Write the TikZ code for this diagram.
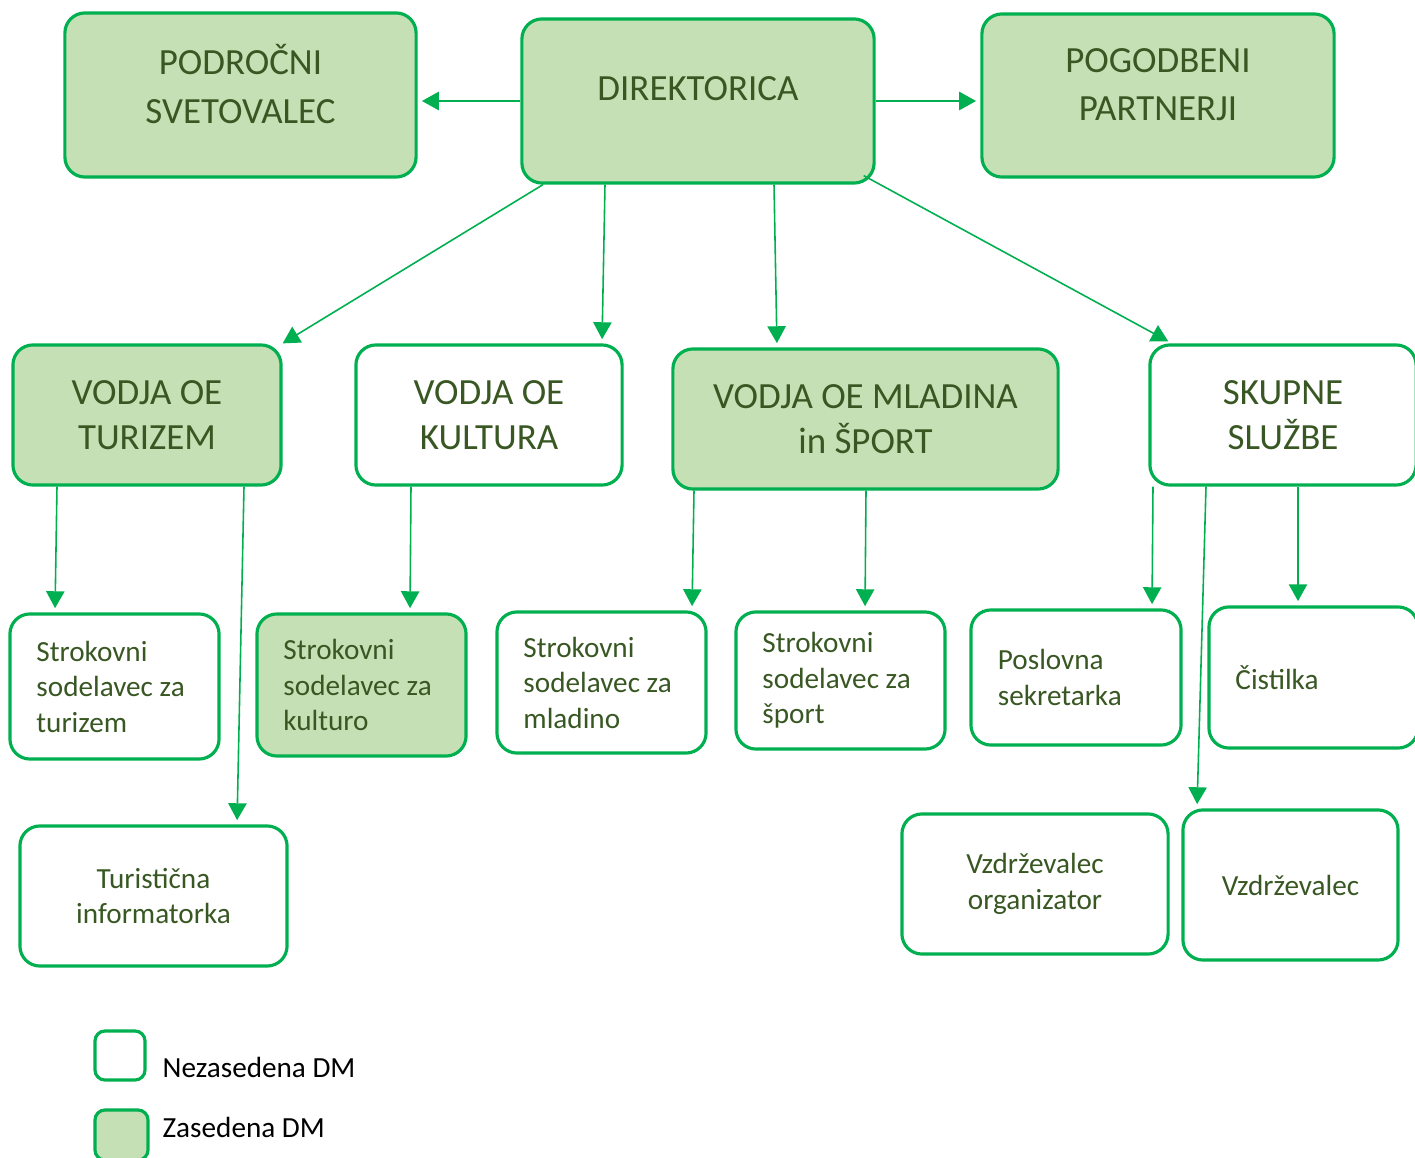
\documentclass[tikz,border=0pt]{standalone}
\usepackage{fontspec}
\setmainfont{Carlito}
\usetikzlibrary{arrows.meta,calc}
\definecolor{dmline}{HTML}{00B050}
\definecolor{dmfill}{HTML}{C5E0B4}
\definecolor{dmtext}{HTML}{385723}
\begin{document}
\begin{tikzpicture}[x=0.01cm, y=-0.01cm,
    box/.style={draw=dmline, line width=0.9pt, rounded corners=0.2cm, text=dmtext,
                inner sep=0pt, font=\fontsize{8.3}{10.1}\selectfont},
    full/.style={fill=dmfill},
    sz/.style 2 args={minimum width=#1cm, minimum height=#2cm},
    big/.style={align=center, font=\fontsize{10.5}{12.8}\selectfont},
    ttl/.style={align=center, text=dmtext, inner sep=0pt, font=\fontsize{10.5}{13.7}\selectfont},
    lft/.style={align=flush left, text width=1.56cm},
    mid/.style={align=center},
    conn/.style={draw=dmline, line width=0.45pt, shorten >=1.2pt,
                 -{Triangle[length=4.8pt, width=5.2pt]}}]
    \useasboundingbox (0,0) rectangle (1415,1158);
    % top row
    \node[box, full, sz={3.51}{1.64},
          label={[ttl, name=podt, yshift=0.11cm]center:PODROČNI\\SVETOVALEC}] (pod) at (240.5,95) {};
    \node[box, full, sz={3.52}{1.64},
          label={[ttl, name=dirt, yshift=0.12cm]center:DIREKTORICA}] (dir) at (698,101) {};
    \node[box, full, sz={3.52}{1.63},
          label={[ttl, name=pogt, yshift=0.11cm]center:POGODBENI\\PARTNERJI}] (pog) at (1158,95.5) {};
    % vodje
    \node[box, full, big, sz={2.68}{1.40}] (tur) at (147,415) {VODJA OE\\TURIZEM};
    \node[box, big, sz={2.66}{1.40}] (kul) at (489,415) {VODJA OE\\KULTURA};
    \node[box, full, big, sz={3.85}{1.40}] (mla) at (865.5,419) {VODJA OE MLADINA\\in ŠPORT};
    \node[box, big, sz={2.66}{1.40}] (sku) at (1283,415) {SKUPNE\\SLUŽBE};
    % delovna mesta
    \node[box, lft, sz={2.09}{1.45}] (stt) at (114.5,686.5) {Strokovni\\sodelavec za\\turizem};
    \node[box, full, lft, sz={2.09}{1.42}] (stk) at (361.5,685) {Strokovni\\sodelavec za\\kulturo};
    \node[box, lft, sz={2.09}{1.41}] (stm) at (601.5,682.5) {Strokovni\\sodelavec za\\mladino};
    \node[box, lft, sz={2.09}{1.37}] (sts) at (840.5,680.5) {Strokovni\\sodelavec za\\šport};
    \node[box, lft, sz={2.10}{1.35}] (pos) at (1076,677.5) {Poslovna\\sekretarka};
    \node[box, lft, sz={2.09}{1.41}] (cis) at (1313.5,677.5) {Čistilka};
    \node[box, mid, sz={2.67}{1.40}] (inf) at (153.5,896) {Turistična\\informatorka};
    \node[box, mid, sz={2.66}{1.40}] (vzo) at (1035,884) {Vzdrževalec\\organizator};
    \node[box, mid, sz={2.15}{1.50}] (vzd) at (1290.5,885) {Vzdrževalec};
    % legenda
    \node[box, rounded corners=0.1cm, sz={0.50}{0.49}] (lgn) at (120,1055.5) {};
    \node[box, full, rounded corners=0.1cm, sz={0.53}{0.50}] (lgz) at (121.5,1135) {};
    \node[anchor=west, inner sep=0pt, font=\fontsize{8.3}{10}\selectfont] (lgnt) at (162,1067) {Nezasedena DM};
    \node[anchor=west, inner sep=0pt, font=\fontsize{8.3}{10}\selectfont] (lgzt) at (162,1127.5) {Zasedena DM};
    % povezave
    \draw[conn] (dir.west) -- (dir.west -| pod.east);
    \draw[conn] (dir.east) -- (dir.east -| pog.west);
    \draw[conn, shorten >=0pt] (543,0 |- dir.south) -- (tur.north east);
    \draw[conn] (605,0 |- dir.south) -- (602,0 |- kul.north);
    \draw[conn] (774,0 |- dir.south) -- (777,0 |- mla.north);
    \draw[conn] ($(dir.south east)+(-12,-9)$) -- (1172,0 |- sku.north);
    \draw[conn] (57,0 |- tur.south) -- (55,0 |- stt.north);
    \draw[conn] (244,0 |- tur.south) -- (237,0 |- inf.north);
    \draw[conn] (411,0 |- kul.south) -- (410,0 |- stk.north);
    \draw[conn] (694,0 |- mla.south) -- (692,0 |- stm.north);
    \draw[conn] (866,0 |- mla.south) -- (865,0 |- sts.north);
    \draw[conn] (1153,0 |- sku.south) -- (1152,0 |- pos.north);
    \draw[conn] (1206,0 |- sku.south) -- (1197,0 |- vzd.north);
    \draw[conn] (1298,0 |- sku.south) -- (1298,0 |- cis.north);
\end{tikzpicture}
\end{document}
